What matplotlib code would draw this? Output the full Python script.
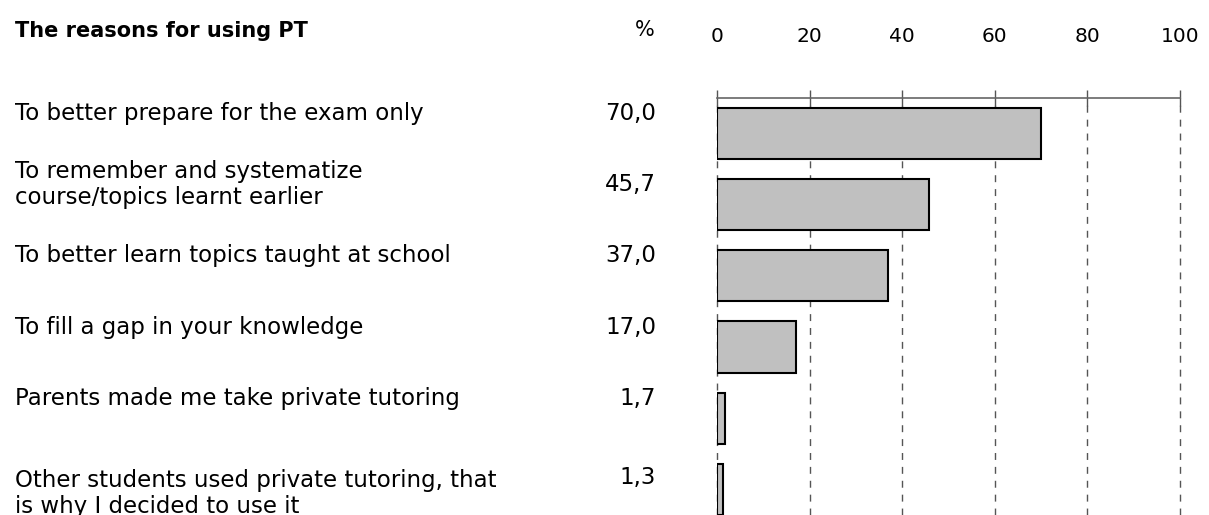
import matplotlib
matplotlib.use('Agg')
import matplotlib.pyplot as plt
import matplotlib.transforms as mtransforms
import numpy as np

plt.rcParams['font.family'] = ['DejaVu Sans']

reasons = [
    'To better prepare for the exam only',
    'To remember and systematize\ncourse/topics learnt earlier',
    'To better learn topics taught at school',
    'To fill a gap in your knowledge',
    'Parents made me take private tutoring',
    'Other students used private tutoring, that\nis why I decided to use it',
]
percent = [70.0, 45.7, 37.0, 17.0, 1.7, 1.3]
ticks = [0, 20, 40, 60, 80, 100]

W, H = 1209, 515
fig = plt.figure(figsize=(W / 100, H / 100), dpi=100)
ax = fig.add_axes([717 / W, 0, (1180 - 717) / W, (H - 97.7) / H])

y = np.arange(len(percent))
ax.barh(y, percent, height=0.72, color='#c0c0c0', edgecolor='black',
        linewidth=1.5, zorder=3)
ax.set_xlim(0, 100)
ax.set_ylim(5.36, -0.5)
ax.set_yticks([])

ax.xaxis.tick_top()
ax.set_xticks(ticks)
ax.set_xticklabels([str(t) for t in ticks], fontsize=14.5)
ax.tick_params(axis='x', direction='inout', length=11, width=1,
               color='#555555', pad=32)
for t in ticks:
    ax.axvline(t, color='#555555', linestyle=(0, (5, 5)), linewidth=1,
               zorder=1, clip_on=False)

for s in ['left', 'right', 'bottom']:
    ax.spines[s].set_visible(False)
ax.spines['top'].set_color('#666666')
ax.spines['top'].set_linewidth(1.2)

# labels sit a little above the bar centre (last one runs off the bottom)
trans = mtransforms.blended_transform_factory(fig.transFigure, ax.transData)
last = len(reasons) - 1
for i, (lab, v) in enumerate(zip(reasons, percent)):
    yl = i - (-0.06 if i == last else 0.28)
    yv = i - (0.16 if i == last else 0.28)
    ax.text(15 / W, yl, lab, transform=trans, ha='left', va='center',
            fontsize=16.5, linespacing=1.2)
    ax.text(656 / W, yv, f'{v:.1f}'.replace('.', ','), transform=trans,
            ha='right', va='center', fontsize=16.5)

fig.text(15 / W, 1 - 31 / H, 'The reasons for using PT', fontsize=15,
         fontweight='bold', ha='left', va='center')
fig.text(645 / W, 1 - 30 / H, '%', fontsize=15, ha='center', va='center')

fig.savefig('out.png', dpi=100)
